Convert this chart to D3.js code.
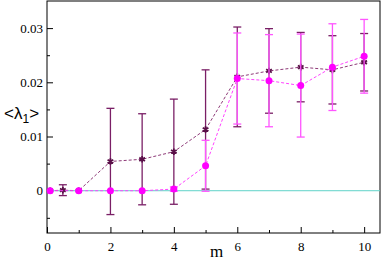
<!DOCTYPE html>
<html>
<head>
<meta charset="utf-8">
<style>
  body { margin: 0; background: #fff; }
  svg { display: block; }
  .tick text { font-family: 'Liberation Serif', 'Times New Roman', serif; font-size: 13px; fill: #000; }
  .tick line { stroke: #000; }
  .domain { display: none; }
</style>
</head>
<body>
<svg width="382" height="261"></svg>
<script src="https://d3js.org/d3.v7.min.js"></script>
<script>
// series 1: dark purple stars
let m1 = [0.1, 0.5, 1, 2, 3, 4, 5, 6, 7, 8, 9, 10]
let val1 = [0, 0.0001, 0, 0.0054, 0.0058, 0.0072, 0.0113, 0.0210, 0.0221, 0.0228, 0.0223, 0.0237]
let err1 = [0, 0.001, 0, 0.0098, 0.0084, 0.0097, 0.0110, 0.0092, 0.0078, 0.0064, 0.0063, 0.0053]

// series 2: magenta dots
let m2 = [0.1, 1, 2, 3, 4, 5, 6, 7, 8, 9, 10]
let val2 = [0, 0, 0, 0, 0.0003, 0.0046, 0.0207, 0.0203, 0.0194, 0.0228, 0.0248]
let err2 = [0, 0, 0, 0, 0.0004, 0.0047, 0.0084, 0.0085, 0.0095, 0.0080, 0.0068]

let xTicks = [0, 2, 4, 6, 8, 10]
let xMinor = [1, 3, 5, 7, 9]
let yTicks = [0, 0.01, 0.02, 0.03]
let yMinor = [-0.005, 0.005, 0.015, 0.025]

let margin = { top: 1, right: 2, bottom: 28, left: 47 }
let width = 382, height = 261

let svg = d3.select("svg")

let x = d3.scaleLinear()
    .domain([0, 10.5])
    .range([margin.left, width - margin.right])

let y = d3.scaleLinear()
    .domain([-0.0078, 0.035])
    .range([height - margin.bottom, margin.top])

// frame
svg.append("rect")
    .attr("x", margin.left)
    .attr("y", margin.top)
    .attr("width", width - margin.right - margin.left)
    .attr("height", height - margin.bottom - margin.top)
    .attr("fill", "none")
    .attr("stroke", "#000")
    .attr("stroke-width", 1)

// axes with inward ticks
svg.append("g")
    .attr("transform", `translate(0,${height - margin.bottom})`)
    .call(d3.axisBottom(x).tickValues(xTicks).tickSize(-6).tickPadding(9).tickFormat(d3.format("d")))
svg.append("g")
    .attr("transform", `translate(0,${height - margin.bottom})`)
    .call(d3.axisBottom(x).tickValues(xMinor).tickSize(-3).tickFormat(""))

svg.append("g")
    .attr("transform", `translate(${margin.left},0)`)
    .call(d3.axisLeft(y).tickValues(yTicks).tickSize(-6).tickPadding(4)
        .tickFormat(d => d === 0 ? "0" : d3.format(".2f")(d)))
svg.append("g")
    .attr("transform", `translate(${margin.left},0)`)
    .call(d3.axisLeft(y).tickValues(yMinor).tickSize(-3).tickFormat(""))

// zero line
svg.append("line")
    .attr("x1", margin.left)
    .attr("x2", width - margin.right)
    .attr("y1", y(0))
    .attr("y2", y(0))
    .attr("stroke", "#5fd3c8")
    .attr("stroke-width", 1)

function drawSeries(ms, vals, errs, lineColor, barColor) {
    let pts = ms.map((m, i) => ({ m: m, v: vals[i], e: errs[i] }))
    let g = svg.append("g")
    let bars = pts.filter(d => d.e > 0)
    g.selectAll(".bar").data(bars).join("line")
        .attr("x1", d => x(d.m)).attr("x2", d => x(d.m))
        .attr("y1", d => y(d.v - d.e)).attr("y2", d => y(d.v + d.e))
        .attr("stroke", barColor).attr("stroke-width", 1.3)
    let caps = []
    bars.forEach(d => { caps.push({ m: d.m, v: d.v - d.e }); caps.push({ m: d.m, v: d.v + d.e }) })
    g.selectAll(".cap").data(caps).join("line")
        .attr("x1", d => x(d.m) - 4).attr("x2", d => x(d.m) + 4)
        .attr("y1", d => y(d.v)).attr("y2", d => y(d.v))
        .attr("stroke", barColor).attr("stroke-width", 1.3)
    g.append("path")
        .datum(pts)
        .attr("fill", "none")
        .attr("stroke", lineColor)
        .attr("stroke-width", 1)
        .attr("stroke-dasharray", "3,2")
        .attr("d", d3.line().x(d => x(d.m)).y(d => y(d.v)))
    return { g: g, pts: pts }
}

let s1 = drawSeries(m1, val1, err1, "#8e3a78", "#7a1f66")
let s2 = drawSeries(m2, val2, err2, "#ff44ff", "#ff55ff")

// star markers
s1.g.selectAll(".star").data(s1.pts).join("path")
    .attr("transform", d => `translate(${x(d.m)},${y(d.v)})`)
    .attr("d", d3.symbol(d3.symbolAsterisk, 30))
    .attr("stroke", "#5a0f48")
    .attr("stroke-width", 1.8)
    .attr("fill", "none")

// magenta dots
s2.g.selectAll(".dot").data(s2.pts).join("circle")
    .attr("cx", d => x(d.m))
    .attr("cy", d => y(d.v))
    .attr("r", 3.5)
    .attr("fill", "#ff00ff")

// axis labels
let yl = svg.append("text")
    .attr("x", 4)
    .attr("y", 119)
    .attr("font-family", "'Liberation Sans', Arial, sans-serif")
    .attr("font-size", 17)
yl.append("tspan").text("<λ")
yl.append("tspan").attr("font-size", 12).attr("dy", 4).text("1")
yl.append("tspan").attr("dy", -4).text(">")

svg.append("text")
    .attr("x", x(5.35))
    .attr("y", 257)
    .attr("text-anchor", "middle")
    .attr("font-family", "'Liberation Serif', 'Times New Roman', serif")
    .attr("font-size", 17)
    .text("m")
</script>
</body>
</html>
